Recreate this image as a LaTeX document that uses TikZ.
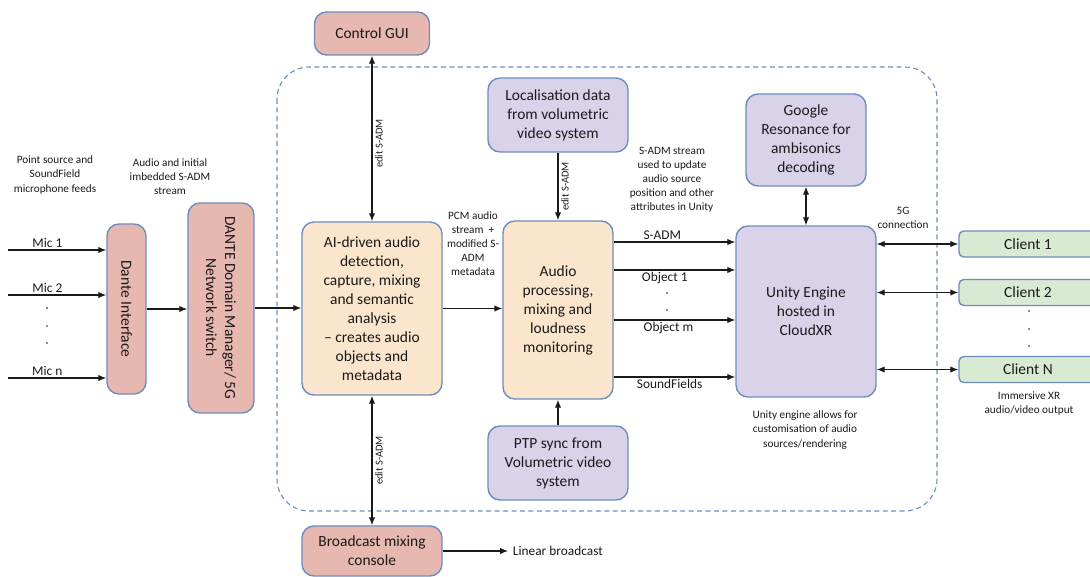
\documentclass[tikz,border=0pt]{standalone}
\usepackage{fontspec}
\setmainfont{Carlito}
\usetikzlibrary{arrows.meta}

\definecolor{boxline}{HTML}{6C8EBF}
\definecolor{salmon}{HTML}{E6B8AF}
\definecolor{lavender}{HTML}{D9D2E9}
\definecolor{peach}{HTML}{FCE5CD}
\definecolor{mint}{HTML}{D9EAD3}
\definecolor{ink}{HTML}{1A1A1A}

\tikzset{
  block/.style={draw=boxline, line width=1pt, rounded corners=0.3cm, align=center,
    font=\fontsize{11}{13.5}\selectfont, text=ink, inner sep=2pt},
  note/.style={align=center, font=\fontsize{8}{10}\selectfont, text=ink},
  lbl/.style={font=\fontsize{9.5}{11}\selectfont, text=ink},
  arr/.style={-{Latex[length=2mm,width=1.6mm]}, line width=0.75pt, draw=ink},
  biarr/.style={{Latex[length=2mm,width=1.6mm]}-{Latex[length=2mm,width=1.6mm]}, line width=0.75pt, draw=ink},
  vlbl/.style={rotate=90, anchor=north, font=\fontsize{7.5}{9}\selectfont, text=ink, inner sep=2pt},
}

\begin{document}
\begin{tikzpicture}[x=0.025cm, y=-0.025cm]
\useasboundingbox (0,0) rectangle (1090,577);

% Cloud area
\draw[boxline, line width=0.8pt, dash pattern=on 3.5pt off 2.5pt, rounded corners=0.8cm] (277,67) rectangle (937,511);

% Input side
\node[block, fill=salmon, minimum width=0.975cm, minimum height=4.25cm] (dif) at (126.5,309) {};
\node[rotate=-90, font=\fontsize{11}{13.5}\selectfont, text=ink] at (dif) {Dante Interface};
\node[block, fill=salmon, minimum width=1.65cm, minimum height=5.25cm] (dnt) at (221,308) {};
\node[rotate=-90, align=center, font=\fontsize{11}{13.5}\selectfont, text=ink] at (dnt) {DANTE Domain Manager/ 5G\\Network switch};
\node[note] at (55,175) {Point source and\\SoundField\\microphone feeds};
\node[note] at (170,177) {Audio and initial\\imbedded S-ADM\\stream};

% Mic feeds
\coordinate (mic1) at (8,250);
\coordinate (mic2) at (8,295);
\coordinate (micn) at (8,378);
\draw[arr] (mic1) -- (mic1 -| dif.west) node[lbl, pos=0.4, above, inner sep=1pt] {Mic 1};
\draw[arr] (mic2) -- (mic2 -| dif.west) node[lbl, pos=0.4, above, inner sep=1pt] {Mic 2};
\draw[arr] (micn) -- (micn -| dif.west) node[lbl, pos=0.4, above, inner sep=1pt] {Mic n};
\foreach \y in {308,326,343}
  \fill[ink] (47,\y) circle[radius=0.6pt];

% Processing chain
\node[block, fill=salmon, minimum width=2.875cm, minimum height=1.075cm] (gui) at (372,33.5) {Control GUI};
\node[block, fill=peach, minimum width=3.5cm, minimum height=4.325cm] (ai) at (372,308.5)
  {AI-driven audio\\detection,\\capture, mixing\\and semantic\\analysis\\– creates audio\\objects and\\metadata};
\node[block, fill=salmon, minimum width=3.5cm, minimum height=1.25cm] (bcast) at (372,551) {Broadcast mixing\\console};
\node[lbl, anchor=west] (linear) at (508,551) {Linear broadcast};
\node[block, fill=peach, minimum width=2.75cm, minimum height=4.45cm] (audio) at (558,310)
  {Audio\\processing,\\mixing and\\loudness\\monitoring};
\node[block, fill=lavender, minimum width=3.5cm, minimum height=1.85cm] (loc) at (558,115)
  {Localisation data\\from volumetric\\video system};
\node[block, fill=lavender, minimum width=3.5cm, minimum height=1.85cm] (ptp) at (558,463)
  {PTP sync from\\Volumetric video\\system};
\node[note] at (473,244) {PCM audio\\stream\ \ +\\modified S-\\ADM\\metadata};

\draw[arr] (dif.east) -- (dif.east -| dnt.west);
\draw[arr] (dnt.east) -- (dnt.east -| ai.west);
\draw[arr] (ai.east) -- (ai.east -| audio.west);
\draw[biarr] (ai.north |- gui.south) -- (ai.north) node[vlbl, pos=0.53] {edit S-ADM};
\draw[biarr] (ai.south) -- (bcast.north) node[vlbl, midway] {edit S-ADM};
\draw[arr] (bcast.east) -- (linear.west);
\draw[arr] (loc.south) -- (audio.north) node[vlbl, midway] {edit S-ADM};
\draw[arr] (ptp.north) -- (audio.south);

% Rendering
\node[block, fill=lavender, minimum width=3cm, minimum height=2.3cm] (goog) at (806,140)
  {Google\\Resonance for\\ambisonics\\decoding};
\node[block, fill=lavender, minimum width=3.5cm, minimum height=4.275cm] (unity) at (806,311.5)
  {Unity Engine\\hosted in\\CloudXR};
\node[note] at (672,180) {S-ADM stream\\used to update\\audio source\\position and other\\attributes in Unity};
\node[note] at (805,430) {Unity engine allows for\\customisation of audio\\sources/rendering};
\draw[biarr] (goog.south) -- (unity.north);

\draw[arr] (audio.east |- 0,242) -- (unity.west |- 0,242) node[lbl, pos=0.4, above, inner sep=1.5pt] {S-ADM};
\draw[arr] (audio.east |- 0,270) -- (unity.west |- 0,270) node[lbl, pos=0.42, below, inner sep=1.5pt] {Object 1};
\draw[arr] (audio.east |- 0,320) -- (unity.west |- 0,320) node[lbl, pos=0.45, below, inner sep=1.5pt] {Object m};
\draw[arr] (audio.east |- 0,377) -- (unity.west |- 0,377) node[lbl, pos=0.46, below, inner sep=1.5pt] {SoundFields};
\foreach \y in {293,310}
  \fill[ink] (667,\y) circle[radius=0.6pt];

% Clients
\node[block, fill=mint, rounded corners=0.12cm, minimum width=3.45cm, minimum height=0.65cm] (c1) at (1028,244) {Client 1};
\node[block, fill=mint, rounded corners=0.12cm, minimum width=3.45cm, minimum height=0.65cm] (c2) at (1028,292.5) {Client 2};
\node[block, fill=mint, rounded corners=0.12cm, minimum width=3.45cm, minimum height=0.65cm] (cn) at (1028,369.5) {Client N};
\draw[biarr] (unity.east |- c1) -- (c1.west);
\draw[biarr] (unity.east |- c2) -- (c2.west);
\draw[biarr] (unity.east |- cn) -- (cn.west);
\foreach \y in {311,329,346}
  \fill[ink] (1029,\y) circle[radius=0.6pt];
\node[note] at (903,218) {5G\\connection};
\node[note] at (1029,404) {Immersive XR\\audio/video output};

\end{tikzpicture}
\end{document}
